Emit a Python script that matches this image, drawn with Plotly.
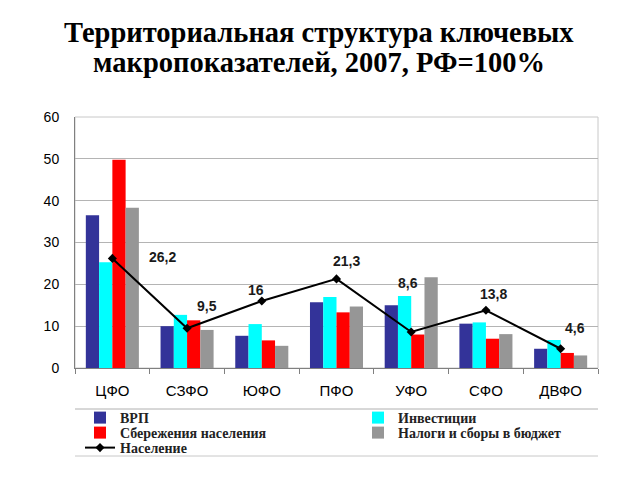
import plotly.graph_objects as go

categories = ["ЦФО", "СЗФО", "ЮФО", "ПФО", "УФО", "СФО", "ДВФО"]
vrp = [36.5, 10.0, 7.7, 15.7, 15.0, 10.6, 4.6]
invest = [25.3, 12.7, 10.5, 17.0, 17.2, 10.9, 6.7]
savings = [49.8, 11.4, 6.6, 13.3, 8.0, 7.0, 3.6]
taxes = [38.3, 9.1, 5.3, 14.7, 21.7, 8.1, 3.0]
population = [26.2, 9.5, 16.0, 21.3, 8.6, 13.8, 4.6]

series_names = ["ВРП", "Инвестиции", "Сбережения населения", "Налоги и сборы в бюджет"]
series_colors = ["#333399", "#00FFFF", "#FF0000", "#969696"]
pop_name = "Население"
title_lines = ["Территориальная структура ключевых", "макропоказателей, 2007, РФ=100%"]

# label offsets (pixels) for population data labels
label_dx = [50, 20, -6, 10, -3, 8, 14]
label_dy = [1, 22, 11, 18, 49, 16, 21]

# page has an 8px body margin; positions below are in screen pixels
OFF = 8
W, H = 640, 480
PLOT_TOP, PLOT_BOTTOM = 117, 368
def paper_y(px):
    return (PLOT_BOTTOM - px) / (PLOT_BOTTOM - PLOT_TOP)
def cont_x(px):
    return (px - OFF) / W
def cont_y(px):
    return 1 - (px - OFF) / H

# legend slots: (legend id, text-left x, row centre y)
legend_ids = ["legend", "legend2", "legend3", "legend4", "legend5"]
legend_slots = [(120, 418), (398, 418), (120, 433), (398, 433), (120, 448)]

fig = go.Figure()
for name, vals, col, lg in zip(series_names, [vrp, invest, savings, taxes], series_colors, legend_ids):
    fig.add_trace(go.Bar(x=categories, y=vals, name=name, legend=lg,
                         marker=dict(color=col, line=dict(width=0))))

fig.add_trace(go.Scatter(x=categories, y=population, name=pop_name, mode="lines+markers",
                         legend=legend_ids[4],
                         line=dict(color="black", width=2),
                         marker=dict(symbol="diamond", size=7, color="black")))

for c, v, dx, dy in zip(categories, population, label_dx, label_dy):
    fig.add_annotation(x=c, y=v, text=f"{v:g}".replace(".", ","), showarrow=False,
                       xshift=dx, yshift=dy,
                       font=dict(family="Arial, Liberation Sans", size=14, color="#1a1a1a", weight="bold"))

for line, py in zip(title_lines, [32, 63]):
    fig.add_annotation(xref="paper", yref="paper", x=(319 - 75) / 523, y=paper_y(py), yanchor="middle",
                       text=line, showarrow=False,
                       font=dict(family="Liberation Serif, Times New Roman", size=28.5,
                                 color="black", weight="bold"))

# plot frame and legend separator lines
fig.add_shape(type="rect", xref="paper", yref="paper", x0=0, y0=0, x1=1, y1=1,
              line=dict(color="#c8c8c8", width=1), layer="below")
fig.add_shape(type="line", xref="paper", yref="paper", x0=0, x1=1, y0=paper_y(409), y1=paper_y(409),
              line=dict(color="#b0b0b0", width=1))
fig.add_shape(type="line", xref="paper", yref="paper", x0=0, x1=1, y0=paper_y(456), y1=paper_y(456),
              line=dict(color="#c8c8c8", width=1))

legend_font = dict(family="Liberation Serif, Times New Roman", size=14, color="#222", weight="bold")
legends = {}
for lid, (tx, ty) in zip(legend_ids, legend_slots):
    legends[lid] = dict(xref="container", yref="container", x=cont_x(tx - 40), xanchor="left",
                        y=cont_y(ty), yanchor="middle", itemwidth=30, font=legend_font,
                        bgcolor="rgba(0,0,0,0)")

fig.update_layout(
    width=W, height=H,
    margin=dict(l=75 - OFF, r=W - 598 + OFF, t=PLOT_TOP - OFF, b=H - PLOT_BOTTOM + OFF, autoexpand=False),
    paper_bgcolor="white", plot_bgcolor="white",
    barmode="group", bargap=0.29, bargroupgap=0,
    showlegend=True,
    **legends,
    xaxis=dict(tickfont=dict(family="Arial, Liberation Sans", size=15, color="black"),
               showline=True, linecolor="#808080", linewidth=1,
               ticks="outside", tickson="boundaries", ticklen=5, tickcolor="#808080",
               ticklabelstandoff=9, showgrid=False),
    yaxis=dict(range=[0, 60], dtick=10,
               tickfont=dict(family="Arial, Liberation Sans", size=14, color="black"),
               showline=True, linecolor="#808080", linewidth=1,
               ticks="", ticklabelstandoff=12,
               showgrid=True, gridcolor="#b4b4b4", gridwidth=1, zeroline=False),
)

fig.write_html("out.html")
